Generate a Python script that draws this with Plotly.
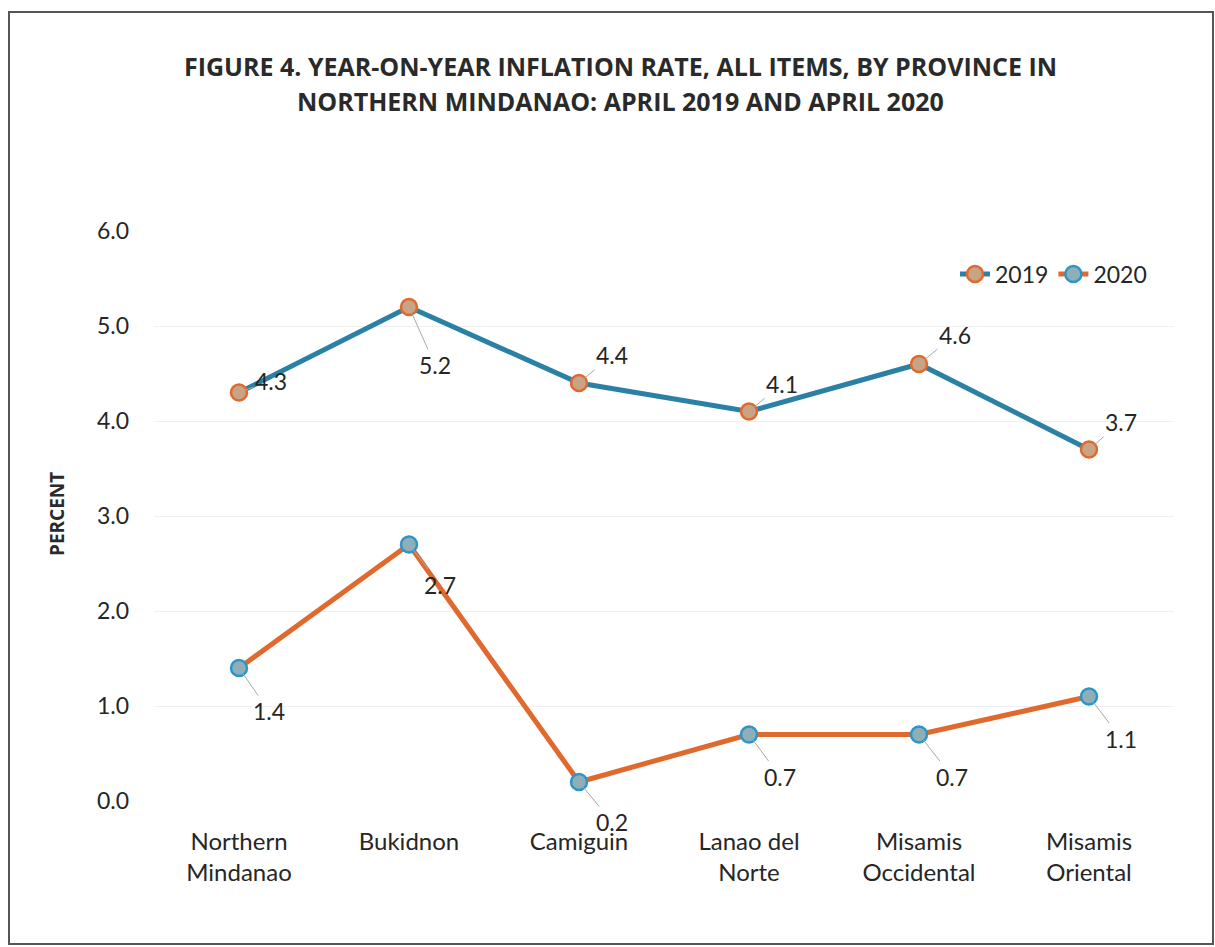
import plotly.graph_objects as go

categories = ["Northern<br>Mindanao", "Bukidnon", "Camiguin", "Lanao del<br>Norte", "Misamis<br>Occidental", "Misamis<br>Oriental"]
values_2019 = [4.3, 5.2, 4.4, 4.1, 4.6, 3.7]
values_2020 = [1.4, 2.7, 0.2, 0.7, 0.7, 1.1]
y_ticks = [0, 1, 2, 3, 4, 5, 6]
label_offsets_2019 = [(32, -12), (26, 58), (33, -28), (33, -28), (36, -29), (32, -28)]
label_offsets_2020 = [(30, 43), (31, 40), (33, 40), (31, 42), (33, 42), (32, 42)]

W, H = 1215, 947
ML, MR, MT, MB = 154, 41, 231, 146
PW, PH = W - ML - MR, H - MT - MB

BLUE = "#2B80A6"
ORANGE = "#E0692D"
FONT = "Lato"

x_idx = list(range(len(categories)))

fig = go.Figure()
fig.add_trace(go.Scatter(
    x=x_idx, y=values_2019, name="2019", mode="lines+markers",
    line=dict(color=BLUE, width=5),
    marker=dict(size=16, color="#C9A385", line=dict(color=ORANGE, width=2.5)),
))
fig.add_trace(go.Scatter(
    x=x_idx, y=values_2020, name="2020", mode="lines+markers",
    line=dict(color=ORANGE, width=5),
    marker=dict(size=16, color="#8FAFB8", line=dict(color="#2E95C8", width=2.5)),
))

annotations = []
for vals, offs in ((values_2019, label_offsets_2019), (values_2020, label_offsets_2020)):
    for i, (v, (dx, dy)) in enumerate(zip(vals, offs)):
        annotations.append(dict(
            x=i, y=v, xref="x", yref="y", text=f"{v:.1f}",
            showarrow=True, arrowhead=0, arrowwidth=1, arrowcolor="#A8A8A8",
            ax=dx, ay=dy, standoff=7,
            font=dict(family=FONT, size=23, color="#262626"),
        ))

def py(pix):
    return (H - MB - pix) / PH

def px(pix):
    return (pix - ML) / PW

title_lines = ["FIGURE 4. YEAR-ON-YEAR INFLATION RATE, ALL ITEMS, BY PROVINCE IN",
               "NORTHERN MINDANAO: APRIL 2019 AND APRIL 2020"]
for line, ypix in zip(title_lines, (66, 101)):
    annotations.append(dict(
        x=px(620), y=py(ypix), xref="paper", yref="paper", text=f"<b>{line}</b>",
        showarrow=False, xanchor="center", yanchor="middle",
        font=dict(family="Open Sans", size=25, color="#2A2A2A"),
    ))

annotations.append(dict(
    x=px(57), y=py(514), xref="paper", yref="paper", text="<b>PERCENT</b>",
    showarrow=False, textangle=-90, xanchor="center", yanchor="middle",
    font=dict(family="Open Sans", size=19, color="#2A2A2A"),
))

fig.update_layout(
    width=W, height=H,
    margin=dict(l=ML, r=MR, t=MT, b=MB),
    paper_bgcolor="white", plot_bgcolor="white",
    showlegend=True,
    legend=dict(orientation="h", x=px(1152), xanchor="right", y=py(274), yanchor="middle",
                font=dict(family=FONT, size=23, color="#262626"),
                bgcolor="rgba(0,0,0,0)", itemwidth=30),
    annotations=annotations,
    shapes=[dict(type="rect", xref="paper", yref="paper",
                 x0=px(9), x1=px(1213), y0=py(944), y1=py(12),
                 line=dict(color="#555555", width=2), fillcolor="rgba(0,0,0,0)", layer="below")],
)
fig.update_xaxes(
    range=[-0.5, len(categories) - 0.5], tickmode="array", tickvals=x_idx, ticktext=categories,
    showgrid=False, zeroline=False, showline=False, ticks="",
    tickfont=dict(family=FONT, size=24, color="#262626"), ticklabelstandoff=24,
)
fig.update_yaxes(
    range=[0, 6], tickmode="array", tickvals=y_ticks, ticktext=[f"{t:.1f}" for t in y_ticks],
    showgrid=True, gridcolor="#EFEFEF", gridwidth=1, zeroline=False, showline=False, ticks="",
    tickfont=dict(family=FONT, size=23, color="#262626"), ticklabelstandoff=24,
)

fig.write_html("out.html")
